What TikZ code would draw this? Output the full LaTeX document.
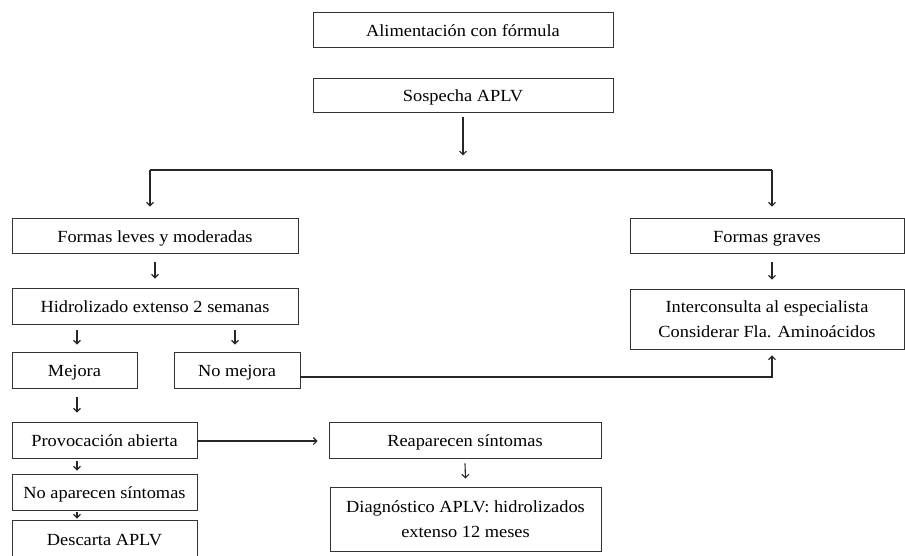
\documentclass[tikz,border=0pt]{standalone}
\usepackage{fontspec}
\setmainfont{Liberation Serif}[FakeStretch=1.08]
\usetikzlibrary{arrows.meta}
\begin{document}
\begin{tikzpicture}[x=1pt,y=-1pt,
  box/.style={draw=black!80,line width=0.9pt,inner sep=0pt,align=center,
    font=\fontsize{17}{24.5}\selectfont,text=black},
  one/.style={box,text height=13.5pt,text depth=0pt},
  arr/.style={draw=black!85,line width=1.1pt,-{Straight Barb[length=3.5pt,width=7pt]}},
  ln/.style={draw=black!85,line width=1.1pt}]
\useasboundingbox (0,0) rectangle (905,556);

% boxes
\node[one,minimum width=300pt,minimum height=35pt] (ali) at (463,29.5) {Alimentación con fórmula};
\node[one,minimum width=300pt,minimum height=34pt] (sos) at (463,95) {Sospecha APLV};
\node[one,minimum width=286pt,minimum height=35pt] (leves) at (155,235.5) {Formas leves y moderadas};
\node[one,minimum width=274pt,minimum height=35pt] (graves) at (767,235.5) {Formas graves};
\node[one,minimum width=286pt,minimum height=36pt] (hidro) at (155,306) {Hidrolizado extenso 2 semanas};
\node[box,minimum width=274pt,minimum height=60pt] (inter) at (767,319) {Interconsulta al especialista\\Considerar Fla. Aminoácidos};
\node[one,minimum width=125pt,minimum height=36pt] (mejora) at (74.5,370) {Mejora};
\node[one,minimum width=126pt,minimum height=36pt] (nomej) at (237,370) {No mejora};
\node[one,minimum width=185pt,minimum height=36pt] (prov) at (104.5,440) {Provocación abierta};
\node[one,minimum width=272pt,minimum height=36pt] (reap) at (465,440) {Reaparecen síntomas};
\node[one,minimum width=185pt,minimum height=36pt] (noap) at (104.5,492) {No aparecen síntomas};
\node[box,minimum width=271pt,minimum height=64pt] (diag) at (465.5,519) {Diagnóstico APLV: hidrolizados\\extenso 12 meses};
\node[one,minimum width=185pt,minimum height=38pt] (desc) at (104.5,539) {Descarta APLV};

% split below the suspicion
\coordinate (sl) at (150,170);
\coordinate (sr) at (772,170);
\draw[arr] ([yshift=-5pt]sos.south) -- ++(0,38);
\draw[ln] (sl) -- (sr);
\draw[arr] (sl) -- ([yshift=11pt]sl |- leves.north);
\draw[arr] (sr) -- ([yshift=11pt]sr |- graves.north);

% left branch
\draw[arr] ([yshift=-9pt]leves.south) -- ([yshift=9pt]hidro.north);
\draw[arr] ([xshift=2.5pt,yshift=-6pt]hidro.south -| mejora.north) -- ([xshift=2.5pt,yshift=7pt]mejora.north);
\draw[arr] ([xshift=-2pt,yshift=-6pt]hidro.south -| nomej.north) -- ([xshift=-2pt,yshift=7pt]nomej.north);
\draw[arr] ([xshift=2.5pt,yshift=-9pt]mejora.south) -- ([xshift=2.5pt,yshift=9pt]mejora.south |- prov.north);
\draw[arr] ([xshift=2.5pt,yshift=-3pt]prov.south -| mejora.south) -- ([xshift=2.5pt,yshift=3pt]mejora.south |- noap.north);
\draw[arr] ([xshift=2.5pt,yshift=-2pt]noap.south -| mejora.south) -- ([xshift=2.5pt,yshift=1pt]mejora.south |- desc.north);

% right branch
\draw[arr] ([yshift=-9pt]sr |- graves.south) -- ([yshift=9pt]sr |- inter.north);
\draw[arr] ([yshift=-7pt]nomej.east) -- ([yshift=-7pt]nomej.east -| sr) -- ([yshift=-6pt]sr |- inter.south);

% provocation outcome
\draw[arr] ([yshift=-1pt]prov.east) -- ([xshift=-11pt,yshift=-1pt]reap.west);
\draw[arr] ([yshift=-5pt]reap.south) -- ([yshift=8pt]diag.north);
\end{tikzpicture}
\end{document}
